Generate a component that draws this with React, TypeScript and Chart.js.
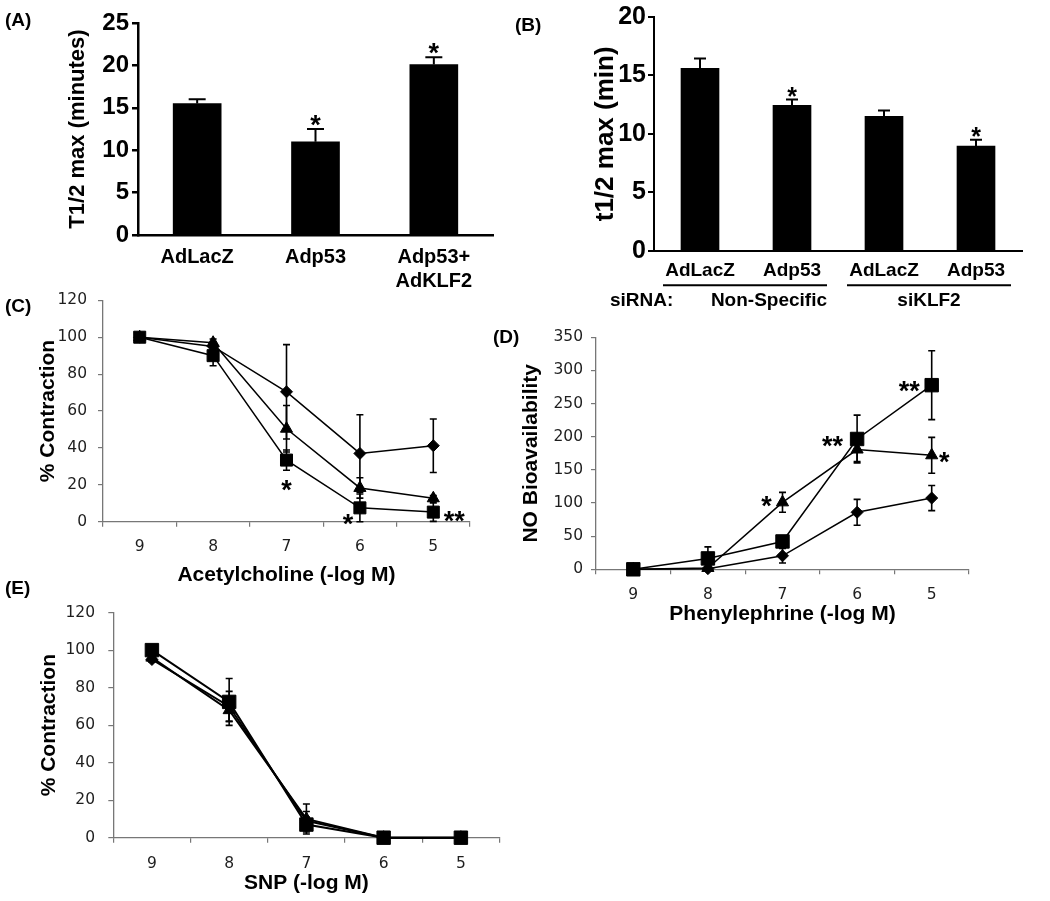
import React, { useEffect, useRef } from "react";
import { Chart, registerables } from "chart.js";

Chart.register(...registerables);

const SANS = "'Liberation Sans', Arial, Helvetica, sans-serif";
const DEJAVU = "'DejaVu Sans', Verdana, sans-serif";
const GRAY = "#777777";
const TXT = "#1e1e1e";

// ---------- Panel A ----------
const aCategories = ["AdLacZ", "Adp53", ["Adp53+", "AdKLF2"]];
const aValues = [15.5, 11.0, 20.1];
const aErrors = [0.5, 1.5, 0.85];
const aStars = ["", "*", "*"];
const aTicks = [0, 5, 10, 15, 20, 25];

// ---------- Panel B ----------
const bCategories = ["AdLacZ", "Adp53", "AdLacZ", "Adp53"];
const bValues = [15.6, 12.45, 11.5, 8.95];
const bErrors = [0.85, 0.5, 0.5, 0.55];
const bStars = ["", "*", "", "*"];
const bGroupNames = ["Non-Specific", "siKLF2"];
const bGroupMembers = [
  [0, 1],
  [2, 3],
];
const bRowLabel = "siRNA:";

// ---------- Dose axis (C, D, E) ----------
const doseLabels = ["9", "8", "7", "6", "5"];

// Panel C: Acetylcholine
const cSquare = [100, 90, 33.4, 7.5, 5.2];
const cSquareErr = [0, 5.5, 5.5, 7.5, 5];
const cTriangle = [100, 97, 50.4, 18.3, 12.7];
const cTriangleErr = [0, 2, 12.6, 5.5, 1.5];
const cDiamond = [100, 95, 70.4, 37, 41.2];
const cDiamondErr = [0, 2, 25.6, 21, 14.5];

// Panel D: Phenylephrine
const dSquare = [0, 16.4, 42, 196.6, 277.8];
const dSquareErr = [0, 17.4, 5, 36, 52];
const dTriangle = [0, 2, 101, 180.7, 172];
const dTriangleErr = [0, 2, 15, 18, 27];
const dDiamond = [0, 1, 20.4, 86, 107.5];
const dDiamondErr = [0, 1, 11, 19.5, 19];

// Panel E: SNP
const eSquare = [100, 72.4, 7, 0, 0];
const eSquareErr = [0, 12.5, 4, 0, 0];
const eTriangle = [96, 68, 10, 0, 0];
const eTriangleErr = [1.5, 6, 8, 0, 0];
const eDiamond = [95, 70, 9, 0, 0];
const eDiamondErr = [1.5, 8, 5, 0, 0];

// ---------- plugins ----------
function errorBarPlugin(cap: number, lineWidth: number, upperOnly: boolean, before: boolean) {
  const draw = (chart: any) => {
    const { ctx } = chart;
    const yScale = chart.scales.y;
    chart.data.datasets.forEach((ds: any, di: number) => {
      if (!ds.errors) return;
      const meta = chart.getDatasetMeta(di);
      ctx.save();
      ctx.strokeStyle = "#000";
      ctx.lineWidth = lineWidth;
      meta.data.forEach((el: any, i: number) => {
        const e = ds.errors[i];
        if (!e) return;
        const v = ds.data[i];
        const x = el.x;
        const yTop = yScale.getPixelForValue(v + e);
        const yBot = yScale.getPixelForValue(upperOnly ? v : v - e);
        ctx.beginPath();
        ctx.moveTo(x, yTop);
        ctx.lineTo(x, yBot);
        ctx.moveTo(x - cap / 2, yTop);
        ctx.lineTo(x + cap / 2, yTop);
        if (!upperOnly) {
          ctx.moveTo(x - cap / 2, yBot);
          ctx.lineTo(x + cap / 2, yBot);
        }
        ctx.stroke();
      });
      ctx.restore();
    });
  };
  return before
    ? { id: "errorBars", beforeDatasetsDraw: draw }
    : { id: "errorBars", afterDatasetsDraw: draw };
}

type Star = { ds: number; i: number; text: string; dx: number; dy: number; errTop?: boolean };

function starPlugin(items: Star[], size: number) {
  return {
    id: "stars",
    afterDatasetsDraw(chart: any) {
      const { ctx } = chart;
      const yScale = chart.scales.y;
      ctx.save();
      ctx.font = `bold ${size}px ${SANS}`;
      ctx.fillStyle = "#000";
      ctx.textAlign = "center";
      ctx.textBaseline = "alphabetic";
      items.forEach((it) => {
        const ds = chart.data.datasets[it.ds];
        const el = chart.getDatasetMeta(it.ds).data[it.i];
        let y = el.y;
        if (it.errTop) y = yScale.getPixelForValue(ds.data[it.i] + ds.errors[it.i]);
        ctx.fillText(it.text, el.x + it.dx, y + it.dy + 0.59 * size);
      });
      ctx.restore();
    },
  };
}

function groupPlugin() {
  return {
    id: "groups",
    afterDraw(chart: any) {
      const { ctx, chartArea } = chart;
      const xs = chart.scales.x;
      ctx.save();
      ctx.strokeStyle = "#000";
      ctx.lineWidth = 2;
      ctx.fillStyle = "#000";
      ctx.font = `bold 19px ${SANS}`;
      ctx.textBaseline = "middle";
      const lineY = chartArea.bottom + 34.5;
      const textY = chartArea.bottom + 50;
      bGroupMembers.forEach((m, gi) => {
        const x0 = xs.getPixelForValue(m[0]) - 37;
        const x1 = xs.getPixelForValue(m[m.length - 1]) + 35;
        ctx.beginPath();
        ctx.moveTo(x0, lineY);
        ctx.lineTo(x1, lineY);
        ctx.stroke();
        if (gi === 0) {
          ctx.textAlign = "right";
          ctx.fillText(bGroupNames[gi], x1, textY);
        } else {
          ctx.textAlign = "center";
          ctx.fillText(bGroupNames[gi], (x0 + x1) / 2, textY);
        }
      });
      ctx.textAlign = "left";
      ctx.fillText(bRowLabel, chartArea.left - 44, textY);
      ctx.restore();
    },
  };
}

// ---------- config builders ----------
function barConfig(o: any) {
  return {
    type: "bar",
    data: {
      labels: o.labels,
      datasets: [
        {
          data: o.values,
          errors: o.errors,
          backgroundColor: "#000",
          borderWidth: 0,
          barThickness: o.barThickness,
        },
      ],
    },
    options: {
      animation: false,
      responsive: false,
      devicePixelRatio: 1,
      layout: { padding: { left: 0, top: o.top, right: o.w - o.right, bottom: 0 } },
      plugins: { legend: { display: false }, tooltip: { enabled: false } },
      scales: {
        x: {
          type: "category",
          offset: true,
          grid: { display: false, drawTicks: false },
          border: { display: true, color: "#000", width: o.axisW },
          ticks: {
            font: { family: SANS, size: o.xFont, weight: "bold" },
            color: "#000",
            padding: o.xPad,
            maxRotation: 0,
            autoSkip: false,
          },
          afterFit: (s: any) => {
            s.height = o.h - o.bottom;
          },
        },
        y: {
          min: 0,
          max: o.yMax,
          afterBuildTicks: (s: any) => {
            s.ticks = o.yTicks.map((v: number) => ({ value: v }));
          },
          ticks: {
            font: { family: SANS, size: o.yFont, weight: "bold" },
            color: "#000",
            padding: o.yPad,
          },
          grid: {
            display: true,
            drawOnChartArea: false,
            drawTicks: true,
            tickLength: 6,
            color: "#000",
            lineWidth: o.axisW,
          },
          border: { display: true, color: "#000", width: o.axisW },
          title: {
            display: true,
            text: o.yTitle,
            color: "#000",
            font: { family: SANS, size: o.yTitleFont, weight: "bold" },
            padding: { top: o.yTitleX - (o.yTitleFont * 1.2) / 2, bottom: 0 },
          },
          afterFit: (s: any) => {
            s.width = o.left;
          },
        },
      },
    },
    plugins: o.plugins,
  };
}

function lineDs(data: number[], errors: number[], style: string, radius: number, lw: number) {
  return {
    data,
    errors,
    borderColor: "#000",
    backgroundColor: "#000",
    pointBackgroundColor: "#000",
    pointBorderColor: "#000",
    pointBorderWidth: 1,
    pointStyle: style,
    pointRadius: radius,
    borderWidth: lw,
    tension: 0,
    clip: false,
  };
}

function doseConfig(o: any) {
  const tf = 21;
  return {
    type: "line",
    data: { labels: doseLabels, datasets: o.datasets },
    options: {
      animation: false,
      responsive: false,
      devicePixelRatio: 1,
      layout: { padding: { left: 0, top: o.top, right: o.w - o.right, bottom: 0 } },
      plugins: { legend: { display: false }, tooltip: { enabled: false } },
      scales: {
        x: {
          type: "category",
          offset: true,
          grid: {
            offset: true,
            drawOnChartArea: false,
            tickLength: 5,
            color: GRAY,
            lineWidth: 1.2,
          },
          border: { display: true, color: GRAY, width: 1.3 },
          ticks: {
            font: { family: DEJAVU, size: 15.5 },
            color: TXT,
            padding: o.xPad,
            maxRotation: 0,
            autoSkip: false,
          },
          title: {
            display: true,
            text: o.xTitle,
            color: "#000",
            font: { family: SANS, size: tf, weight: "bold" },
            padding: { top: 0, bottom: o.h - o.xTitleY - (tf * 1.2) / 2 },
          },
          afterFit: (s: any) => {
            s.height = o.h - o.bottom;
          },
        },
        y: {
          min: 0,
          max: o.yMax,
          ticks: {
            stepSize: o.yStep,
            font: { family: DEJAVU, size: 15.5 },
            color: TXT,
            padding: o.yPad,
          },
          grid: {
            drawOnChartArea: false,
            tickLength: 5,
            color: GRAY,
            lineWidth: 1.2,
          },
          border: { display: true, color: GRAY, width: 1.3 },
          title: {
            display: true,
            text: o.yTitle,
            color: "#000",
            font: { family: SANS, size: tf, weight: "bold" },
            padding: { top: o.yTitleX - (tf * 1.2) / 2, bottom: 0 },
          },
          afterFit: (s: any) => {
            s.width = o.left;
          },
        },
      },
    },
    plugins: [errorBarPlugin(7, 1.6, false, true), starPlugin(o.stars, 27)],
  };
}

// ---------- panels ----------
const panelA = () =>
  barConfig({
    labels: aCategories,
    values: aValues,
    errors: aErrors,
    barThickness: 48,
    w: 500,
    h: 290,
    left: 138,
    right: 493,
    top: 23,
    bottom: 235,
    axisW: 2.5,
    xFont: 20,
    xPad: 10,
    yFont: 24,
    yPad: 3,
    yMax: 25,
    yTicks: aTicks,
    yTitle: "T1/2 max (minutes)",
    yTitleFont: 22,
    yTitleX: 78,
    plugins: [
      errorBarPlugin(17, 2, true, false),
      starPlugin(
        aStars
          .map((s, i) => ({ ds: 0, i, text: s, dx: 0, dy: -11, errTop: true }))
          .filter((s) => s.text),
        27
      ),
    ],
  });

const panelB = () =>
  barConfig({
    labels: bCategories,
    values: bValues,
    errors: bErrors,
    barThickness: 38,
    w: 550,
    h: 320,
    left: 154,
    right: 522,
    top: 16,
    bottom: 250.7,
    axisW: 2,
    xFont: 19,
    xPad: 8.6,
    yFont: 25,
    yPad: 2,
    yMax: 20,
    yTicks: [0, 5, 10, 15, 20],
    yTitle: "t1/2 max (min)",
    yTitleFont: 26,
    yTitleX: 106,
    plugins: [
      errorBarPlugin(12, 2, true, false),
      starPlugin(
        bStars
          .map((s, i) => ({ ds: 0, i, text: s, dx: 0, dy: -9, errTop: true }))
          .filter((s) => s.text),
        25
      ),
      groupPlugin(),
    ],
  });

const panelC = () =>
  doseConfig({
    datasets: [
      lineDs(cSquare, cSquareErr, "rect", 8.5, 1.5),
      lineDs(cTriangle, cTriangleErr, "triangle", 7, 1.5),
      lineDs(cDiamond, cDiamondErr, "rectRot", 6, 1.5),
    ],
    w: 500,
    h: 310,
    left: 103,
    right: 470,
    top: 11.7,
    bottom: 241.7,
    yMax: 120,
    yStep: 20,
    xPad: 11,
    yPad: 11,
    xTitle: "Acetylcholine (-log M)",
    xTitleY: 295,
    yTitle: "% Contraction",
    yTitleX: 48,
    stars: [
      { ds: 0, i: 2, text: "*", dx: 0, dy: 23 },
      { ds: 0, i: 3, text: "*", dx: -12, dy: 9 },
      { ds: 0, i: 4, text: "**", dx: 21, dy: 2 },
    ],
  });

const panelD = () =>
  doseConfig({
    datasets: [
      lineDs(dSquare, dSquareErr, "rect", 9.5, 1.5),
      lineDs(dTriangle, dTriangleErr, "triangle", 7, 1.5),
      lineDs(dDiamond, dDiamondErr, "rectRot", 6, 1.5),
    ],
    w: 550,
    h: 310,
    left: 96,
    right: 469,
    top: 15,
    bottom: 249.3,
    yMax: 350,
    yStep: 50,
    xPad: 11.7,
    yPad: 8,
    xTitle: "Phenylephrine (-log M)",
    xTitleY: 294,
    yTitle: "NO Bioavailability",
    yTitleX: 31,
    stars: [
      { ds: 1, i: 2, text: "*", dx: -16, dy: -3 },
      { ds: 0, i: 3, text: "**", dx: -24.5, dy: 0.5 },
      { ds: 0, i: 4, text: "**", dx: -22.5, dy: -1.5 },
      { ds: 1, i: 4, text: "*", dx: 12.5, dy: -0.5 },
    ],
  });

const panelE = () =>
  doseConfig({
    datasets: [
      lineDs(eSquare, eSquareErr, "rect", 9.5, 2),
      lineDs(eTriangle, eTriangleErr, "triangle", 7, 2),
      lineDs(eDiamond, eDiamondErr, "rectRot", 6, 2),
    ],
    w: 550,
    h: 311,
    left: 113.3,
    right: 499.5,
    top: 8.4,
    bottom: 247.7,
    yMax: 120,
    yStep: 20,
    xPad: 11.6,
    yPad: 13.3,
    xTitle: "SNP (-log M)",
    xTitleY: 293.3,
    yTitle: "% Contraction",
    yTitleX: 49,
    stars: [],
  });

function ChartBox(props: { left: number; top: number; width: number; height: number; build: () => any }) {
  const ref = useRef<HTMLCanvasElement>(null);
  useEffect(() => {
    const chart = new Chart(ref.current as HTMLCanvasElement, props.build());
    return () => chart.destroy();
  }, []);
  return (
    <div style={{ position: "absolute", left: props.left, top: props.top, width: props.width, height: props.height }}>
      <canvas
        ref={ref}
        width={props.width}
        height={props.height}
        style={{ width: props.width, height: props.height, display: "block" }}
      />
    </div>
  );
}

const panelLetters = [
  { text: "(A)", left: 5, top: 10 },
  { text: "(B)", left: 515, top: 15 },
  { text: "(C)", left: 5, top: 296 },
  { text: "(D)", left: 493, top: 327 },
  { text: "(E)", left: 5, top: 578 },
];

export default function App() {
  return (
    <div
      style={{
        position: "absolute",
        left: 0,
        top: 0,
        width: 1050,
        height: 901,
        background: "#fff",
        overflow: "hidden",
      }}
    >
      <ChartBox left={0} top={0} width={500} height={290} build={panelA} />
      <ChartBox left={500} top={0} width={550} height={320} build={panelB} />
      <ChartBox left={0} top={280} width={500} height={310} build={panelC} />
      <ChartBox left={500} top={320} width={550} height={310} build={panelD} />
      <ChartBox left={0} top={590} width={550} height={311} build={panelE} />
      {panelLetters.map((p) => (
        <div
          key={p.text}
          style={{
            position: "absolute",
            left: p.left,
            top: p.top,
            font: `bold 19px ${SANS}`,
            lineHeight: "20px",
            color: "#000",
          }}
        >
          {p.text}
        </div>
      ))}
    </div>
  );
}
